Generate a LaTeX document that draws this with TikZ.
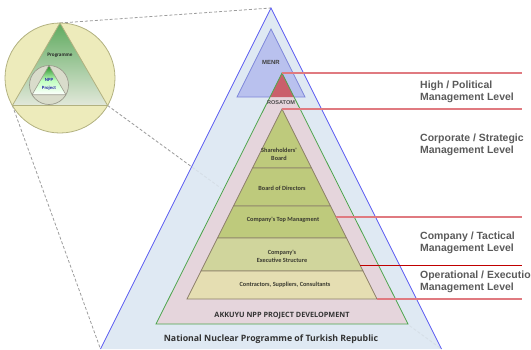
\documentclass[tikz,border=0pt]{standalone}
\usepackage{fontspec}
\setmainfont{Liberation Sans}
\newfontfamily\calib{Carlito}
\newfontfamily\osans{Open Sans}

\definecolor{skyfill}{HTML}{DFE9F3}
\definecolor{skyline}{HTML}{5A5AF2}
\definecolor{menrfill}{HTML}{B9C1EE}
\definecolor{menrline}{HTML}{7E86DA}
\definecolor{rosfill}{HTML}{CA5F6B}
\definecolor{projfill}{HTML}{E5D5DC}
\definecolor{projline}{HTML}{4CA54C}
\definecolor{layerA}{HTML}{BECA7C}
\definecolor{layerB}{HTML}{D0D59C}
\definecolor{layerC}{HTML}{E5DEB2}
\definecolor{layerline}{HTML}{8C7F6A}
\definecolor{redline}{HTML}{E07A80}
\definecolor{darkred}{HTML}{C00000}
\definecolor{labelgrey}{HTML}{5A5A5A}
\definecolor{textdark}{HTML}{3A3A30}
\definecolor{discfill}{HTML}{EDEBBB}
\definecolor{discline}{HTML}{B2B180}
\definecolor{minifill}{HTML}{D9DCCB}
\definecolor{miniline}{HTML}{9A9A8C}
\definecolor{nppblue}{HTML}{2626A8}
\definecolor{dashgrey}{HTML}{9C9C9C}
\definecolor{progtop}{HTML}{5FAA5F}
\definecolor{progbottom}{HTML}{E2E8DA}
\definecolor{npptop}{HTML}{1F8A1F}

\tikzset{
  zoomline/.style={draw=dashgrey, line width=0.8pt, dash pattern=on 3pt off 2pt},
  layer/.style={draw=layerline, line width=0.7pt},
  lvline/.style={draw=redline, line width=1.4pt},
  lvlinedark/.style={draw=darkred, line width=0.8pt},
  lvlabel/.style={anchor=west, inner sep=0pt, align=left, text=labelgrey,
    font=\fontsize{10.5}{12}\selectfont\bfseries},
  laytext/.style={inner sep=0pt, align=center, text=textdark,
    font=\calib\fontsize{6.3}{8}\selectfont\bfseries},
}

\begin{document}
\begin{tikzpicture}[x=1bp, y=-1bp]
\useasboundingbox (0,0) rectangle (531,349);

% corner points of the detail disc and of the national pyramid
\coordinate (dTop) at (60,23);
\coordinate (dLeft) at (12.4,105.5);
\coordinate (dRight) at (107.6,105.5);
\coordinate (nTop) at (271,8);
\coordinate (nLeft) at (100.5,349);
\coordinate (nRight) at (441.5,349);

% projection lines from the disc to the pyramid
\draw[zoomline] (dTop) -- (nTop);
\draw[zoomline] (dLeft) -- (nLeft);
\draw[zoomline] (dRight) -- (nRight);

% detail disc
\draw[fill=discfill, draw=discline, line width=0.8pt] (60,78) circle[radius=55];
\draw[draw=discline, line width=0.8pt, top color=progtop, bottom color=progbottom]
  (dTop) -- (dLeft) -- (dRight) -- cycle;
\draw[fill=minifill, draw=miniline, line width=0.7pt] (49,85) circle[radius=19.5];
\draw[draw=miniline, line width=0.6pt, top color=npptop, bottom color=white, middle color=green!25!white]
  (49,65.5) -- (32.1,94.75) -- (65.9,94.75) -- cycle;
\node[inner sep=0pt, font=\calib\fontsize{5.2}{6}\selectfont\bfseries, text=black!85] (prog) at (60,55.5) {Programme};
\node[inner sep=0pt, align=center, font=\calib\fontsize{4.8}{8}\selectfont\bfseries, text=nppblue] (npp) at (49,84.5) {NPP\\Project};

% national programme
\fill[skyfill] (nTop) -- (nLeft) -- (nRight) -- cycle;
\draw[draw=skyline, line width=0.8pt] (nLeft) -- (nTop) -- (nRight);
% faint continuation of the projection line across the pyramid
\draw[zoomline, draw opacity=0.15] (dRight) -- (nRight);

% ministry
\draw[fill=menrfill, draw=menrline, line width=0.7pt] (271,29) -- (237,97) -- (305,97) -- cycle;
\node[inner sep=0pt, font=\fontsize{6}{7}\selectfont\bfseries, text=black!75] (menr) at (271,62) {MENR};

% project development pyramid
\coordinate (gApex) at (282,73);
\fill[projfill] (gApex) -- (156,324) -- (408,324) -- cycle;
\fill[rosfill] (gApex) -- (270,97) -- (294,97) -- cycle;
\draw[draw=projline, line width=0.8pt] (gApex) -- (156,324) -- (408,324) -- cycle;
\node[inner sep=0pt, font=\fontsize{5.6}{6}\selectfont\bfseries, text=black!70] (rosatom) at (281,102.5) {ROSATOM};

% company layers
\coordinate (oApex) at (282,109);
\draw[layer, fill=layerA] (oApex) -- (252.5,168) -- (311.5,168) -- cycle;
\draw[layer, fill=layerA] (252.5,168) -- (233.5,206) -- (330.5,206) -- (311.5,168) -- cycle;
\draw[layer, fill=layerA] (233.5,206) -- (217.5,238) -- (346.5,238) -- (330.5,206) -- cycle;
\draw[layer, fill=layerB] (217.5,238) -- (201,271) -- (363,271) -- (346.5,238) -- cycle;
\draw[layer, fill=layerC] (201,271) -- (187,299) -- (377,299) -- (363,271) -- cycle;

\node[laytext] (share) at (279,154) {Shareholders'\\Board};
\node[laytext] (board) at (282,188) {Board of Directors};
\node[laytext] (top) at (283,220) {Company's Top Managment};
\node[laytext] (exec) at (282,256.5) {Company's\\Executive Structure};
\node[laytext] (contr) at (285,285) {Contractors, Suppliers, Consultants};

\node[inner sep=0pt, text=black!80, font=\osans\fontsize{7.3}{8}\selectfont\bfseries] (akkuyu) at (282,316) {AKKUYU NPP PROJECT DEVELOPMENT};
\node[inner sep=0pt, text=black!80, font=\osans\fontsize{8.8}{9}\selectfont\bfseries] (national) at (271,339) {National Nuclear Programme of Turkish Republic};

% management level boundaries
\coordinate (rEnd) at (522,0);
\coordinate (tEdge) at (336,217);
\coordinate (eEdge) at (360,265);
\coordinate (bEdge) at (377,299);
\draw[lvline] (gApex) -- (gApex -| rEnd);
\draw[lvline] (oApex) -- (oApex -| rEnd);
\draw[lvline] (tEdge) -- (tEdge -| rEnd);
\draw[lvlinedark] (eEdge) -- (eEdge -| rEnd);
\draw[lvline] (bEdge) -- (bEdge -| rEnd);

\node[lvlabel] (high) at (420,92) {High / Political\\Management Level};
\node[lvlabel] (corp) at (420,145) {Corporate / Strategic\\Management Level};
\node[lvlabel] (comp) at (420,242.5) {Company / Tactical\\Management Level};
\node[lvlabel] (oper) at (420,281.5) {Operational / Execution\\Management Level};
\end{tikzpicture}
\end{document}
